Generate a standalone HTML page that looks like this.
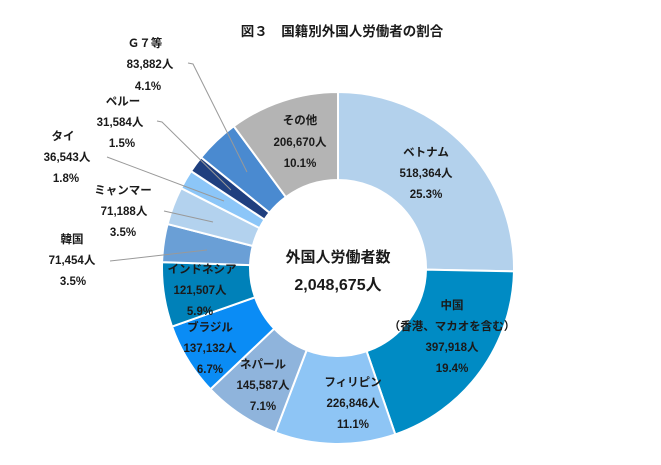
<!DOCTYPE html>
<html><head><meta charset="utf-8"><style>
html,body{margin:0;padding:0;background:#fff;}
svg{display:block;}
text{font-family:"Liberation Sans","Noto Sans CJK JP",sans-serif;font-weight:bold;fill:#1a1a1a;}
</style></head><body>
<svg id="s" width="661" height="465" viewBox="0 0 661 465" xmlns="http://www.w3.org/2000/svg">
<g id="ring"></g>
<text x="342" y="36" font-size="13.5" text-anchor="middle">図３　国籍別外国人労働者の割合</text>
<g stroke="#999" stroke-width="1" fill="none">
<polyline points="188,63 193,64 247,172"/>
<polyline points="157,121 162,122 231,190"/>
<polyline points="107,157 224,201"/>
<polyline points="164,211 213,222"/>
<polyline points="110,261 207,250"/>
</g>
<g font-size="11.5" text-anchor="middle">
<text x="145" y="47">Ｇ７等</text><text x="150" y="68">83,882人</text><text x="148" y="90">4.1%</text>
<text x="123" y="105">ペルー</text><text x="120" y="126">31,584人</text><text x="122" y="147">1.5%</text>
<text x="63" y="140">タイ</text><text x="67" y="161">36,543人</text><text x="66" y="182">1.8%</text>
<text x="123" y="194">ミャンマー</text><text x="124" y="215">71,188人</text><text x="123" y="236">3.5%</text>
<text x="72" y="243">韓国</text><text x="72" y="264">71,454人</text><text x="73" y="285">3.5%</text>
<text x="300" y="124">その他</text><text x="300" y="146">206,670人</text><text x="300" y="167">10.1%</text>
<text x="426" y="156">ベトナム</text><text x="426" y="177">518,364人</text><text x="426" y="198">25.3%</text>
<text x="452" y="309">中国</text><text x="452" y="330">（香港、マカオを含む）</text><text x="452" y="351">397,918人</text><text x="452" y="372">19.4%</text>
<text x="353" y="386">フィリピン</text><text x="353" y="407">226,846人</text><text x="353" y="428">11.1%</text>
<text x="263" y="368">ネパール</text><text x="263" y="389">145,587人</text><text x="263" y="410">7.1%</text>
<text x="210" y="331">ブラジル</text><text x="210" y="352">137,132人</text><text x="210" y="373">6.7%</text>
<text x="202" y="273">インドネシア</text><text x="200" y="294">121,507人</text><text x="200" y="315">5.9%</text>
</g>
<text x="338" y="262" font-size="15" text-anchor="middle">外国人労働者数</text>
<text x="338" y="290" font-size="16" text-anchor="middle">2,048,675人</text>
</svg>
<script>
var data=[[518364,"#b3d1ec"],[397918,"#008bc4"],[226846,"#8ec5f5"],[145587,"#8fb4dc"],[137132,"#0a8cf5"],[121507,"#0081b9"],[71454,"#6a9fd6"],[71188,"#b3d2ee"],[36543,"#8cc6f8"],[31584,"#1f3f7f"],[83882,"#4a8ad0"],[206670,"#b4b4b4"]];
var tot=0;data.forEach(function(d){tot+=d[0];});
var cx=338,cy=268,R=176,r=88,a=0,g=document.getElementById("ring"),h="";
function pt(rad,ang){return (cx+rad*Math.sin(ang)).toFixed(2)+","+(cy-rad*Math.cos(ang)).toFixed(2);}
data.forEach(function(d){var b=a+d[0]/tot*2*Math.PI;var l=(b-a)>Math.PI?1:0;
h+='<path d="M'+pt(R,a)+' A'+R+','+R+' 0 '+l+' 1 '+pt(R,b)+' L'+pt(r,b)+' A'+r+','+r+' 0 '+l+' 0 '+pt(r,a)+' Z" fill="'+d[1]+'" stroke="#fff" stroke-width="2"/>';a=b;});
g.innerHTML=h;
</script>
</body></html>
